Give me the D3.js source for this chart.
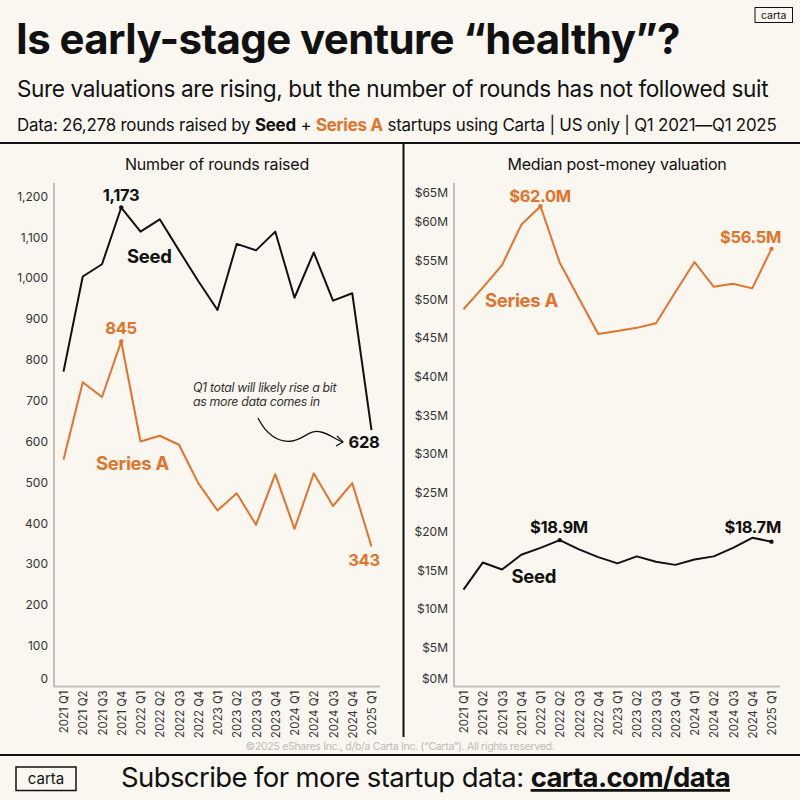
<!DOCTYPE html>
<html>
<head>
<script src="https://d3js.org/d3.v7.min.js"></script>
<style>
body { margin: 0; background: #faf7f0; }
svg { font-family: Inter, 'Open Sans', sans-serif; display: block; }
</style>
</head>
<body>
<svg id="svg"></svg>
<script>
// data
const quarters = ["2021 Q1", "2021 Q2", "2021 Q3", "2021 Q4", "2022 Q1", "2022 Q2", "2022 Q3", "2022 Q4",
  "2023 Q1", "2023 Q2", "2023 Q3", "2023 Q4", "2024 Q1", "2024 Q2", "2024 Q3", "2024 Q4", "2025 Q1"];
const seedRounds = [771, 1004, 1034, 1173, 1114, 1144, 1068, 993, 922, 1084, 1068, 1114, 952, 1063, 945, 963, 628];
const seriesARounds = [555, 745, 709, 845, 600, 614, 592, 498, 431, 473, 396, 520, 386, 522, 442, 498, 343];
const seedValuation = [12.5, 16.0, 15.1, 17.0, 17.9, 18.9, 17.7, 16.7, 15.9, 16.8, 16.1, 15.7, 16.4, 16.8, 17.9, 19.2, 18.7];
const seriesAValuation = [48.7, 51.5, 54.4, 59.6, 62.0, 54.7, 50.1, 45.5, 45.9, 46.3, 46.9, 50.9, 54.8, 51.6, 52.0, 51.4, 56.5];
const roundTicks = [0, 100, 200, 300, 400, 500, 600, 700, 800, 900, 1000, 1100, 1200];
const valuationTicks = [0, 5, 10, 15, 20, 25, 30, 35, 40, 45, 50, 55, 60, 65];

const W = 800, H = 800;
const ORANGE = "#e2732b", INK = "#111";
const plotTop = 183, plotBottom = 686.5;

const svg = d3.select("#svg").attr("width", W).attr("height", H);
svg.append("rect").attr("width", W).attr("height", H).attr("fill", "#faf7f0");

// header
svg.append("text").attr("x", 16).attr("y", 54)
  .attr("font-size", 42).attr("font-weight", 700).attr("fill", INK).attr("letter-spacing", -0.6)
  .text("Is early-stage venture “healthy”?");
svg.append("text").attr("x", 17).attr("y", 97)
  .attr("font-size", 22.6).attr("fill", INK).attr("letter-spacing", -0.4)
  .text("Sure valuations are rising, but the number of rounds has not followed suit");
const sub = svg.append("text").attr("x", 17).attr("y", 131).attr("font-size", 16.9).attr("fill", INK).attr("letter-spacing", -0.22);
sub.append("tspan").text("Data: 26,278 rounds raised by ");
sub.append("tspan").attr("font-weight", 700).text("Seed");
sub.append("tspan").text(" + ");
sub.append("tspan").attr("font-weight", 700).attr("fill", ORANGE).text("Series A");
sub.append("tspan").text(" startups using Carta | US only | Q1 2021—Q1 2025");

// small logo top right
svg.append("rect").attr("x", 755).attr("y", 7.5).attr("width", 37.5).attr("height", 15)
  .attr("fill", "none").attr("stroke", INK).attr("stroke-width", 1);
svg.append("text").attr("x", 773.7).attr("y", 19).attr("text-anchor", "middle")
  .attr("font-size", 10.5).attr("fill", INK).text("carta");

// frame lines
svg.append("line").attr("x1", 0).attr("x2", W).attr("y1", 143).attr("y2", 143).attr("stroke", INK).attr("stroke-width", 2);
svg.append("line").attr("x1", 403.5).attr("x2", 403.5).attr("y1", 143).attr("y2", 737).attr("stroke", INK).attr("stroke-width", 2);
svg.append("line").attr("x1", 0).attr("x2", W).attr("y1", 755).attr("y2", 755).attr("stroke", INK).attr("stroke-width", 2);

svg.append("text").attr("x", 400).attr("y", 749.5).attr("text-anchor", "middle")
  .attr("font-size", 10.5).attr("fill", "#bdbab3").attr("letter-spacing", -0.3)
  .text("©2025 eShares Inc., d/b/a Carta Inc. (“Carta”). All rights reserved.");

// footer
svg.append("rect").attr("x", 16).attr("y", 767).attr("width", 60).attr("height", 23.5)
  .attr("fill", "none").attr("stroke", INK).attr("stroke-width", 1.5);
svg.append("text").attr("x", 46).attr("y", 784).attr("text-anchor", "middle")
  .attr("font-size", 15).attr("fill", INK).text("carta");
const foot = svg.append("text").attr("x", 121).attr("y", 787).attr("font-size", 27.5).attr("fill", INK).attr("letter-spacing", -0.6);
foot.append("tspan").text("Subscribe for more startup data: ");
foot.append("tspan").attr("font-weight", 700).attr("text-decoration", "underline").text("carta.com/data");

function panel(offset, title, ticks, yMax, fmt, series) {
  const g = svg.append("g").attr("transform", `translate(${offset},0)`);
  const x = d3.scalePoint().domain(quarters).range([63.5, 371.5]);
  const y = d3.scaleLinear().domain([0, yMax]).range([plotBottom, plotTop]);

  g.append("text").attr("x", 217).attr("y", 170).attr("text-anchor", "middle")
    .attr("font-size", 16).attr("fill", INK).attr("letter-spacing", -0.2).text(title);

  const ya = g.append("g").attr("transform", "translate(54,0)")
    .call(d3.axisLeft(y).tickValues(ticks).tickSize(0).tickPadding(6).tickFormat(fmt));
  ya.select(".domain").remove();
  ya.selectAll("text").attr("font-family", "Inter, sans-serif").attr("font-size", 12).attr("fill", "#333")
    .attr("dy", d => d === 0 ? "-0.35em" : (d === 65 ? "1.1em" : "0.32em"));

  const xa = g.append("g").attr("transform", `translate(0,${plotBottom})`)
    .call(d3.axisBottom(x).tickSize(0));
  xa.select(".domain").remove();
  xa.selectAll("text").attr("font-family", "Inter, sans-serif").attr("font-size", 11.5).attr("fill", "#333")
    .attr("transform", "rotate(-90)").attr("text-anchor", "end")
    .attr("x", -4).attr("y", 0).attr("dy", "0.36em");

  g.append("path").attr("d", `M54,${plotTop}V${plotBottom}H380`)
    .attr("fill", "none").attr("stroke", "#c4c1ba").attr("stroke-width", 2);

  const line = d3.line().x((d, i) => x(quarters[i])).y(d => y(d));
  series.forEach(s => {
    g.append("path").datum(s.values).attr("d", line)
      .attr("fill", "none").attr("stroke", s.color).attr("stroke-width", 2).attr("stroke-linejoin", "round");
    g.selectAll(null).data(s.marks).enter().append("circle")
      .attr("cx", i => x(quarters[i])).attr("cy", i => y(s.values[i])).attr("r", 2.2).attr("fill", s.color);
    s.labels.forEach(l => {
      g.append("text").attr("x", l.x).attr("y", l.y).attr("text-anchor", l.anchor || "start")
        .attr("font-size", l.size || 16.5).attr("font-weight", 700).attr("fill", s.color)
        .attr("letter-spacing", -0.3).text(l.text);
    });
  });
  return { g, x, y };
}

const left = panel(0, "Number of rounds raised", roundTicks, 1233, d3.format(","), [
  { values: seedRounds, color: INK, marks: [3],
    labels: [{ text: "1,173", x: 121, y: 200.5, anchor: "middle" }, { text: "Seed", x: 127, y: 263, size: 18.5 },
             { text: "628", x: 364, y: 448, anchor: "middle" }] },
  { values: seriesARounds, color: ORANGE, marks: [3],
    labels: [{ text: "845", x: 121, y: 334, anchor: "middle" }, { text: "Series A", x: 96, y: 470, size: 18.5 },
             { text: "343", x: 364, y: 566, anchor: "middle" }] }
]);

// annotation about the incomplete last quarter
const ax = left.x(quarters[16]), ay = left.y(seedRounds[16]);
left.g.append("text").attr("x", 193).attr("y", 391.5).attr("font-size", 12.4).attr("font-style", "italic")
  .attr("fill", "#333").attr("letter-spacing", -0.35).text("Q1 total will likely rise a bit");
left.g.append("text").attr("x", 193).attr("y", 406).attr("font-size", 12.4).attr("font-style", "italic")
  .attr("fill", "#333").attr("letter-spacing", -0.35).text("as more data comes in");
const tipX = ax - 28.5, tipY = ay + 12;
const arrow = d3.path();
arrow.moveTo(258, 418);
arrow.bezierCurveTo(266, 434, 278, 443, 292, 441);
arrow.bezierCurveTo(304, 439, 310, 429, 321, 432);
arrow.bezierCurveTo(330, 434, 336, 440, tipX, tipY);
left.g.append("path").attr("d", arrow.toString()).attr("fill", "none").attr("stroke", INK).attr("stroke-width", 1.3);
left.g.append("path").attr("d", `M${tipX - 6},${tipY - 6}L${tipX},${tipY}L${tipX - 7},${tipY + 4}`)
  .attr("fill", "none").attr("stroke", INK).attr("stroke-width", 1.3).attr("stroke-linejoin", "round");

panel(400, "Median post-money valuation", valuationTicks, 65, d => `$${d}M`, [
  { values: seriesAValuation, color: ORANGE, marks: [4, 16],
    labels: [{ text: "$62.0M", x: 140, y: 201.5, anchor: "middle" }, { text: "Series A", x: 85, y: 307, size: 18.5 },
             { text: "$56.5M", x: 381, y: 243, anchor: "end" }] },
  { values: seedValuation, color: INK, marks: [5, 16],
    labels: [{ text: "$18.9M", x: 159, y: 532.5, anchor: "middle" }, { text: "Seed", x: 111.5, y: 582.5, size: 18.5 },
             { text: "$18.7M", x: 381, y: 533, anchor: "end" }] }
]);
</script>
</body>
</html>
